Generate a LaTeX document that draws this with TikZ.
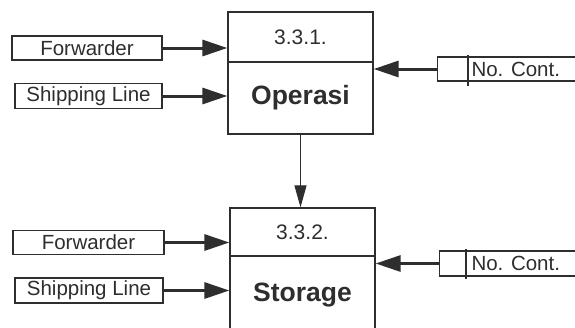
\documentclass[tikz,border=0pt]{standalone}
\usepackage{fontspec}
\setmainfont{Liberation Sans}
\usetikzlibrary{arrows.meta}
\definecolor{ink}{HTML}{2E2E2E}
\begin{document}
\begin{tikzpicture}[x=1pt,y=-1pt,
  srcbox/.style={draw=ink, line width=1.3pt, inner sep=0pt, minimum height=24pt,
    font=\fontsize{20.5}{20.5}\selectfont, text=ink},
  procbox/.style={draw=ink, line width=1.3pt, inner sep=0pt, minimum width=145pt},
  numtext/.style={font=\fontsize{21}{21}\selectfont, text=ink},
  nametext/.style={font=\fontsize{26.5}{26.5}\selectfont\bfseries, text=ink},
  flow/.style={draw=ink, line width=3pt, -{Triangle[length=25pt,width=16pt]}},
  vflow/.style={draw=ink, line width=1.2pt, -{Triangle[length=22pt,width=12pt]}},
  divider/.style={draw=ink, line width=1.5pt}
]
\clip (0,0) rectangle (575,327);
\fill[white] (0,0) rectangle (575,327);

% Process 3.3.1
\node[procbox, minimum height=50pt] (p1h) at (300.5,37) {};
\node[procbox, minimum height=72pt] (p1b) at (300.5,98) {};
\node[numtext] (n1) at (p1h.center) {3.3.1.};
\node[nametext] (o1) at (p1b.center) {Operasi};

% Process 3.3.2
\node[procbox, minimum height=48pt] (p2h) at (302.5,232) {};
\node[procbox, minimum height=78pt] (p2b) at (302.5,295) {};
\node[numtext] (n2) at (p2h.center) {3.3.2.};
\node[nametext] (o2) at (p2b.center) {Storage};

% Inputs on the left
\node[srcbox, minimum width=150pt] (fw1) at (87,48) {Forwarder};
\node[srcbox, minimum width=147pt, minimum height=25pt] (sl1) at (88.5,96) {Shipping Line};
\node[srcbox, minimum width=151pt] (fw2) at (88.5,242.5) {Forwarder};
\node[srcbox, minimum width=148pt, minimum height=25pt] (sl2) at (89,290.5) {Shipping Line};

% Container number stores on the right
\node[srcbox, minimum width=170pt, anchor=west] (nc1) at (437,69) {};
\node[numtext, font=\fontsize{20.5}{20.5}\selectfont, anchor=west] (t1) at (468,69) {No. Cont.};
\coordinate (s1a) at (468,55);
\coordinate (s1b) at (468,86);
\draw[divider] (s1a) -- (s1b);

\node[srcbox, minimum width=170pt, minimum height=25pt, anchor=west] (nc2) at (439,263.5) {};
\node[numtext, font=\fontsize{20.5}{20.5}\selectfont, anchor=west] (t2) at (468,263.5) {No. Cont.};
\coordinate (s2a) at (466,249);
\coordinate (s2b) at (466,279);
\draw[divider] (s2a) -- (s2b);

% Flows
\draw[flow] (fw1.east) -- (fw1.east -| p1h.west);
\draw[flow] (sl1.east) -- (sl1.east -| p1b.west);
\draw[flow] (nc1.west) -- (nc1.west -| p1b.east);
\draw[flow] (fw2.east) -- (fw2.east -| p2h.west);
\draw[flow] (sl2.east) -- (sl2.east -| p2b.west);
\draw[flow] (nc2.west) -- (nc2.west -| p2b.east);
\draw[vflow] (p1b.south) -- (p1b.south |- p2h.north);
\end{tikzpicture}
\end{document}
